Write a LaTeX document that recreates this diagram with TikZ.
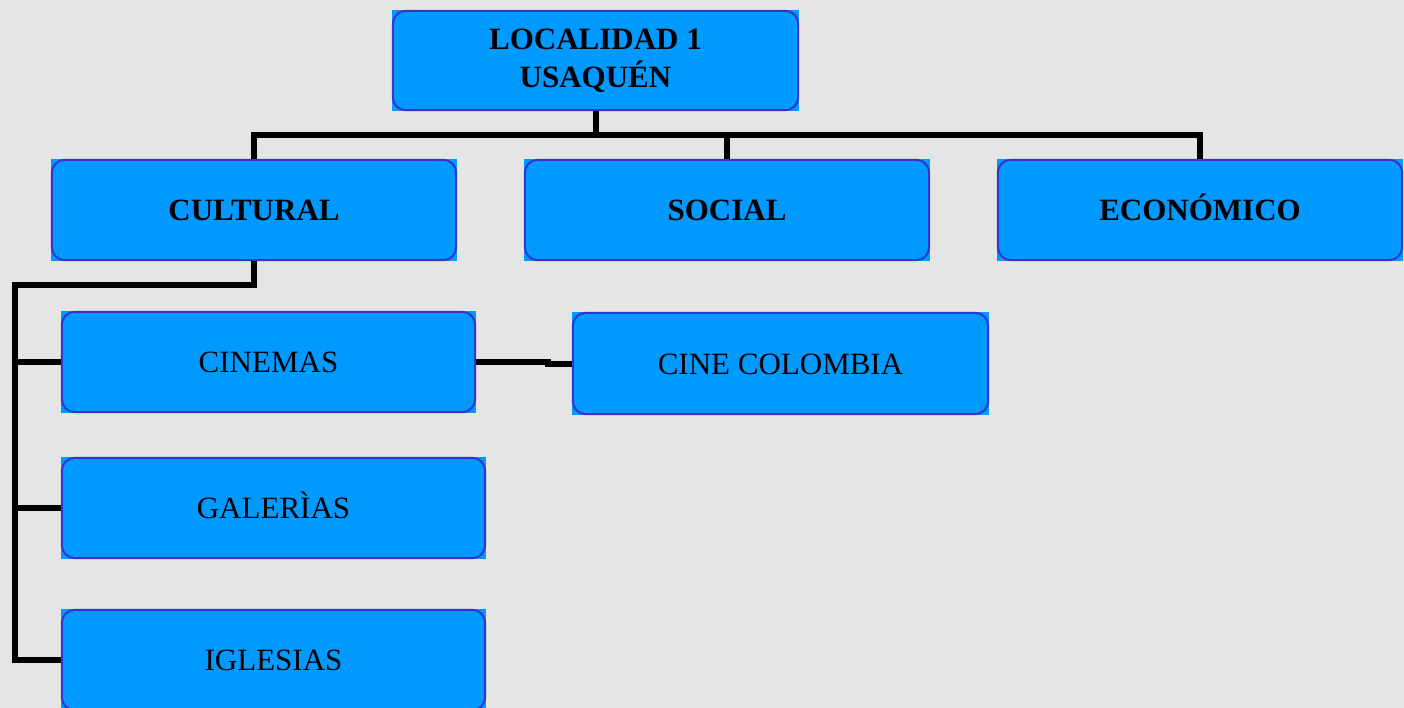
\documentclass[tikz,border=0pt]{standalone}
\usepackage{fontspec}
\setmainfont{Liberation Serif}
\definecolor{bg}{HTML}{E5E5E5}
\definecolor{boxfill}{HTML}{0099FF}
\definecolor{boxline}{HTML}{3535CC}
\begin{document}
\begin{tikzpicture}[x=1pt,y=-1pt,
  box/.style={rectangle, fill=boxfill, inner sep=0pt, minimum height=102pt, align=center,
    text height=21pt, text depth=0pt, font=\fontsize{31}{38}\selectfont},
  hdr/.style={box, font=\fontsize{31}{38}\selectfont\bfseries},
  conn/.style={draw=black, line width=6pt},
  border/.style={draw=boxline, line width=2pt, rounded corners=13pt}]
\useasboundingbox (0,0) rectangle (1404,708);
\fill[bg] (0,0) rectangle (1404,708);
\clip (0,0) rectangle (1404,708);
% nodes
\node[rectangle, fill=boxfill, inner sep=0pt, align=center, font=\fontsize{31}{38}\selectfont\bfseries,
  minimum width=407pt, minimum height=101pt] (top) at (595.5,60.5) {LOCALIDAD 1\\USAQUÉN};
\node[hdr, minimum width=406pt] (cul) at (254,210) {CULTURAL};
\node[hdr, minimum width=406pt] (soc) at (727,210) {SOCIAL};
\node[hdr, minimum width=406pt] (eco) at (1200,210) {ECONÓMICO};
\node[box, minimum width=415pt] (cin) at (268.5,362) {CINEMAS};
\node[box, minimum width=417pt, minimum height=103pt] (cc) at (780.5,363.5) {CINE COLOMBIA};
\node[box, minimum width=425pt] (gal) at (273.5,508) {GALERÌAS};
\node[box, minimum width=425pt] (igl) at (273.5,660) {IGLESIAS};
% borders
\foreach \n in {top,cul,soc,eco,cin,cc,gal,igl}
  \draw[border] ([shift={(1pt,1pt)}]\n.south west) rectangle ([shift={(-1pt,-1pt)}]\n.north east);
% connectors
\coordinate (bar) at (595.5,135);
\coordinate (spine) at (14.5,285.5);
\draw[conn] (top.south) -- (bar);
\draw[conn] (cul.north) |- (bar) -| (eco.north);
\draw[conn] (bar) -| (soc.north);
\draw[conn] (cul.south) |- (spine) |- (igl.west);
\draw[conn] (spine) |- (cin.west);
\draw[conn] (spine) |- (gal.west);
\draw[conn] (cin.east) -- ++(72pt,0pt) |- (cc.west);
\end{tikzpicture}
\end{document}
